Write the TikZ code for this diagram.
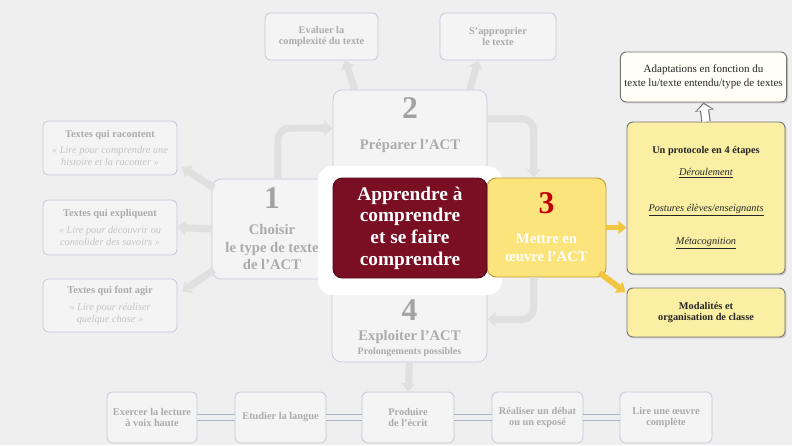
\documentclass[tikz,border=0pt]{standalone}
\usepackage{fontspec}
\setmainfont{Liberation Serif}
\usepackage{tikz}
\usetikzlibrary{arrows.meta}
\usetikzlibrary{positioning}
\usetikzlibrary{shadows}
\definecolor{fond}{HTML}{EFEFEF}
\definecolor{pale}{HTML}{F4F4F4}
\definecolor{bord}{HTML}{C3C9DB}
\definecolor{trait}{HTML}{A9B1CA}
\definecolor{txtpale}{HTML}{ABABAB}
\definecolor{txtital}{HTML}{C4C4C4}
\definecolor{chiffre}{HTML}{A3A3A3}
\definecolor{fleche}{HTML}{E0E0E0}
\definecolor{bordeaux}{HTML}{7A0E23}
\definecolor{jaune}{HTML}{FCE47C}
\definecolor{jauneclair}{HTML}{FBEFA4}
\definecolor{orjaune}{HTML}{F2C640}
\definecolor{rouge}{HTML}{C00000}
\newcommand{\petit}{\fontsize{8.8}{10}\selectfont}
\newcommand{\moyen}{\fontsize{12.5}{15}\selectfont}
\newcommand{\chif}[1]{{\fontsize{27}{29}\selectfont\bfseries\color{chiffre}#1}}
\newcommand{\ital}[1]{{\mdseries\itshape\color{txtital}#1}}
\tikzset{
  palebox/.style={draw=bord, fill=pale, rounded corners=5pt, align=center,
    text=txtpale, font=\petit\bfseries, line width=0.7pt},
  etape/.style={draw=bord, fill=pale, rounded corners=8pt, line width=0.6pt},
  jbox/.style={draw=black!55, fill=jauneclair, rounded corners=5pt, line width=0.8pt,
    align=center, font=\petit, text=black!85,
    drop shadow={opacity=0.35,shadow xshift=1.2pt,shadow yshift=-1.2pt}},
  grosse/.style={line width=6pt, draw=fleche, -{Triangle[length=7pt,width=12pt]}},
  jfleche/.style={line width=5pt, draw=orjaune, -{Triangle[length=7pt,width=11pt]}},
  dbl/.style={draw=trait, double=fond, double distance=5pt, line width=0.9pt}
}
\begin{document}
\begin{tikzpicture}[x=0.03cm,y=-0.03cm]
\fill[fond] (0,0) rectangle (792,445);
\useasboundingbox (0,0) rectangle (792,445);
% boites du haut et de gauche
\node[palebox, minimum width=3.39cm, minimum height=1.41cm] (ev) at (321.5,36.5) {Evaluer la\\complexité du texte};
\node[palebox, minimum width=3.48cm, minimum height=1.41cm] (ap) at (498,36.5) {S'approprier\\le texte};
\node[palebox, minimum width=4.02cm, minimum height=1.62cm] (rac) at (110,148) {Textes qui racontent\\[4pt]
  \ital{« Lire pour comprendre une}\\\ital{histoire et la raconter »}};
\node[palebox, minimum width=4.02cm, minimum height=1.65cm] (expl) at (110,227.5) {Textes qui expliquent\\[4pt]
  \ital{« Lire pour découvrir ou}\\\ital{consolider des savoirs »}};
\node[palebox, minimum width=4.02cm, minimum height=1.59cm] (agi) at (110,305.5) {Textes qui font agir\\[4pt]
  \ital{« Lire pour réaliser}\\\ital{quelque chose »}};
% boites du bas
\node[palebox, minimum width=2.7cm, minimum height=1.53cm] (b1) at (152,417.5) {Exercer la lecture\\à voix haute};
\node[palebox, minimum width=2.73cm, minimum height=1.53cm] (b2) at (280.5,417.5) {Etudier la langue};
\node[palebox, minimum width=2.76cm, minimum height=1.53cm] (b3) at (408,417.5) {Produire\\de l'écrit};
\node[palebox, minimum width=2.73cm, minimum height=1.53cm] (b4) at (537.5,417.5) {Réaliser un débat\\ou un exposé};
\node[palebox, minimum width=2.76cm, minimum height=1.53cm] (b5) at (666,417.5) {Lire une œuvre\\complète};
\draw[dbl] (b1) -- (b2);
\draw[dbl] (b2) -- (b3);
\draw[dbl] (b3) -- (b4);
\draw[dbl] (b4) -- (b5);
% boites de droite
\node[jbox, fill=white!97!yellow, minimum width=4.95cm, minimum height=1.5cm, font=\fontsize{9.4}{11.5}\selectfont] (adap) at (703.5,77)
  {Adaptations en fonction du\\texte lu/texte entendu/type de textes};
\node[jbox, minimum width=4.74cm, minimum height=4.56cm] (proto) at (706,198)
  {\textbf{Un protocole en 4 étapes}\\[8.5pt]\underline{\textit{Déroulement}}\\[20.5pt]
   \underline{\textit{Postures élèves/enseignants}}\\[18.5pt]\underline{\textit{Métacognition}}};
\node[jbox, minimum width=4.74cm, minimum height=1.47cm] (moda) at (706,312.5)
  {\textbf{Modalités et}\\\textbf{organisation de classe}};
% les quatre etapes
\node[etape, minimum width=3.6cm, minimum height=3cm, align=center, text=txtpale, font=\moyen\bfseries] (c1) at (272,229)
  {\chif{1}\\[7pt]Choisir\\le type de texte\\de l'ACT};
\node[etape, minimum width=4.62cm, minimum height=2.85cm] (c2) at (410,137.5) {};
\node[below=3pt of c2.north, align=center, text=txtpale, font=\moyen\bfseries] (t2) {\chif{2}\\[12pt]Préparer l'ACT};
\node[etape, minimum width=4.65cm, minimum height=2.55cm] (c4) at (409.5,319.5) {};
\node[above=1pt of c4.south, align=center, text=txtpale, font=\moyen\bfseries] (t4)
  {\chif{4}\\[2pt]Exploiter l'ACT\\[-3pt]{\fontsize{8.5}{10}\selectfont Prolongements possibles}};
\node[fill=white, rounded corners=12pt, minimum width=5.52cm, minimum height=3.87cm] (halo) at (410,230.5) {};
\node[draw=orjaune!80!black, fill=jaune, rounded corners=8pt, line width=0.8pt, minimum width=3.57cm, minimum height=2.97cm,
  align=center, text=white, font=\fontsize{12.5}{16}\selectfont\bfseries] (c3) at (546.5,227.5)
  {\chif{\color{rouge}3}\\[9pt]Mettre en\\œuvre l'ACT};
\node[fill=bordeaux, draw=bordeaux!70!black, rounded corners=8pt, line width=0.8pt, minimum width=4.62cm, minimum height=3cm,
  text=white, font=\fontsize{16.5}{18.5}\selectfont\bfseries, align=center] (mid) at (410,228)
  {Apprendre à\\comprendre\\et se faire\\comprendre};
% fleches
\draw[grosse, rounded corners=10pt] ([xshift=5pt]c1.north) |- ([yshift=8pt]c2.west);
\draw[grosse, rounded corners=10pt] ([yshift=16pt]c2.east) -| ([xshift=-11pt]c3.north);
\draw[grosse, rounded corners=10pt] ([xshift=-11pt]c3.south) |- (c4.east);
\draw[grosse] (c4.south) -- (b3.north);
\draw[grosse] ([xshift=-47pt]c2.north) -- ([xshift=20pt]ev.south);
\draw[grosse] ([xshift=51pt]c2.north) -- ([xshift=-17pt]ap.south);
\draw[grosse] ([shift={(2pt,-8pt)}]c1.north west) -- ([shift={(4pt,7pt)}]rac.south east);
\draw[grosse] (c1.west) -- (expl.east);
\draw[grosse] ([shift={(2pt,8pt)}]c1.south west) -- ([shift={(4pt,-11pt)}]agi.north east);
\draw[jfleche] (c3.east) -- (c3.east -| proto.west);
\draw[jfleche] ([shift={(-6pt,4pt)}]c3.south east) -- ([shift={(-1pt,-4pt)}]moda.north west);
\draw[line width=8pt, draw=black!55, -{Triangle[length=7pt,width=16pt]}] (proto.north) -- (adap.south);
\draw[line width=6pt, white, -{Triangle[length=5pt,width=12.5pt]}, shorten >=1.5pt] (proto.north) -- (adap.south);
\end{tikzpicture}
\end{document}
